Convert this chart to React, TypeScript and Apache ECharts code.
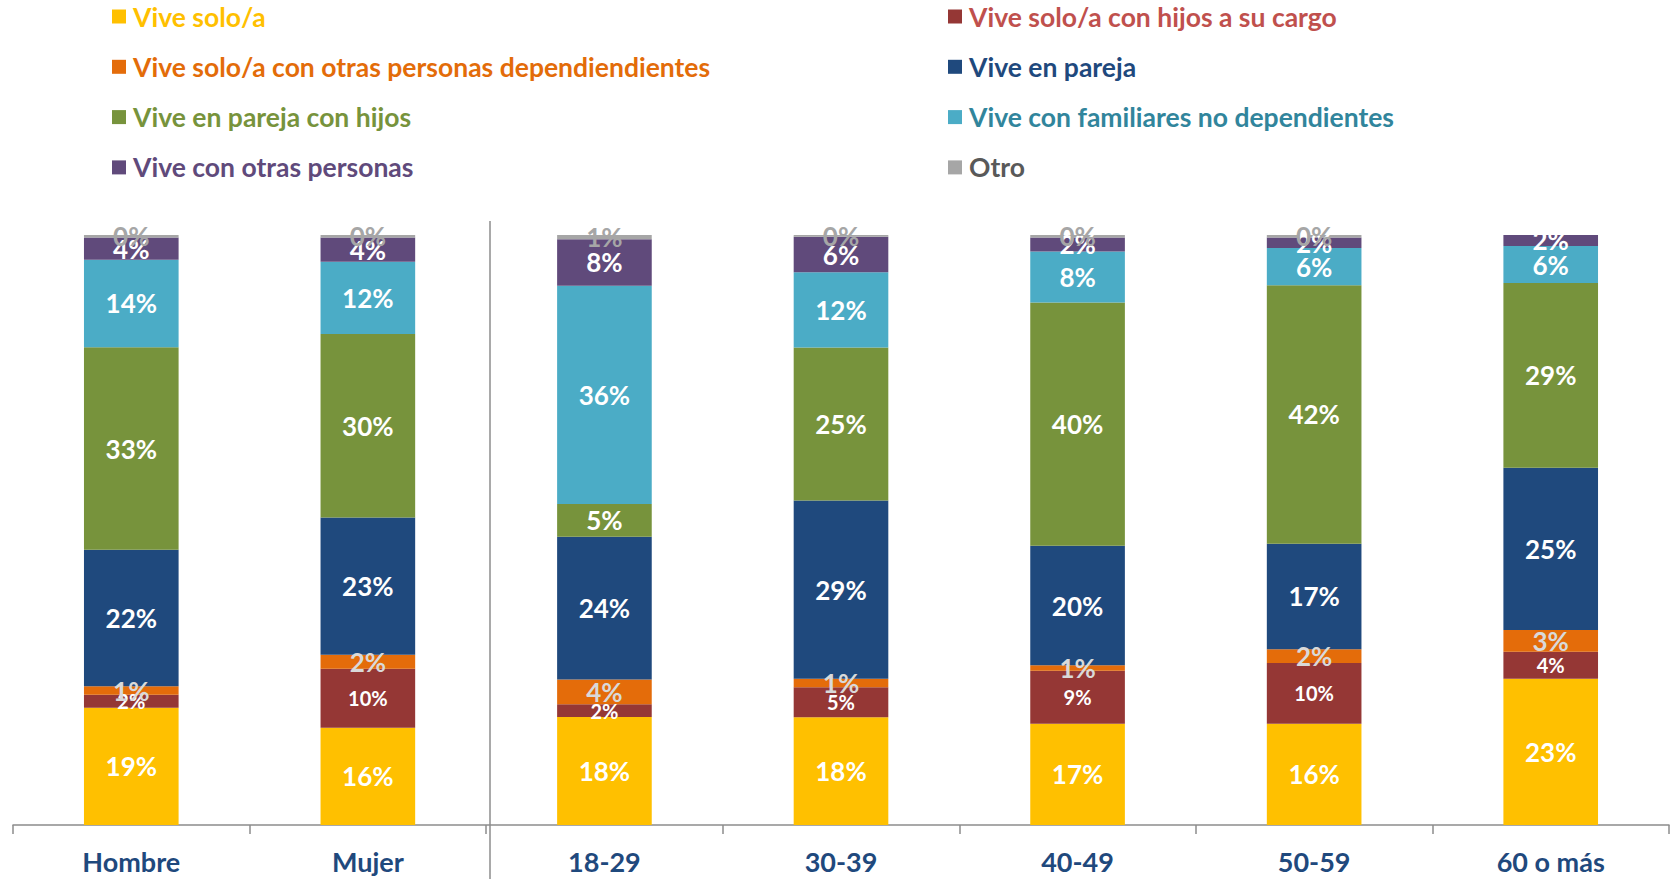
import React, { useEffect, useRef } from "react";
import * as echarts from "echarts";

const categories = ["Hombre", "Mujer", "18-29", "30-39", "40-49", "50-59", "60 o más"];

const seriesNames = [
  "Vive solo/a",
  "Vive solo/a con hijos a su cargo",
  "Vive solo/a con otras personas dependiendientes",
  "Vive en pareja",
  "Vive en pareja con hijos",
  "Vive con familiares no dependientes",
  "Vive con otras personas",
  "Otro",
];

const viveSolo = [18.9, 16.0, 17.9, 17.6, 16.7, 16.3, 22.8];
const soloConHijos = [2.1, 9.7, 2.1, 4.9, 8.7, 9.8, 4.2];
const soloConDependientes = [1.4, 2.3, 4.1, 1.4, 0.9, 2.2, 3.4];
const enPareja = [22.0, 22.6, 23.7, 29.1, 19.7, 17.0, 25.3];
const parejaConHijos = [32.7, 30.2, 5.4, 25.0, 40.1, 41.6, 28.8];
const familiaresNoDep = [14.1, 11.9, 36.2, 12.3, 8.4, 6.0, 5.8];
const otrasPersonas = [3.6, 4.0, 7.7, 5.8, 2.3, 1.7, 1.7];
const otro = [0.4, 0.4, 0.7, 0.3, 0.4, 0.4, 0];

const barColors = ["#FFC000", "#953735", "#E46C0A", "#1F497D", "#77933C", "#4BACC6", "#604A7B", "#A6A6A6"];
const legendTextColors = ["#FFC000", "#C0504D", "#E36C09", "#1F497D", "#77933C", "#31859C", "#604A7B", "#595959"];
const labelColors = ["#FFFFFF", "#FFFFFF", "#D9D9D9", "#FFFFFF", "#FFFFFF", "#FFFFFF", "#FFFFFF", "#A6A6A6"];

const FONT = "Lato";

export default function App() {
  const ref = useRef<HTMLDivElement>(null);

  useEffect(() => {
    if (!ref.current) return;
    const chart = echarts.init(ref.current, undefined, { renderer: "svg" });
    const allSeries = [
      viveSolo,
      soloConHijos,
      soloConDependientes,
      enPareja,
      parejaConHijos,
      familiaresNoDep,
      otrasPersonas,
      otro,
    ];
    const totals = categories.map((_, i) => allSeries.reduce((s, arr) => s + arr[i], 0));

    const series = allSeries.map((arr, si) => ({
      name: seriesNames[si],
      type: "bar",
      stack: "total",
      barWidth: "40%",
      itemStyle: { color: barColors[si] },
      label: {
        show: true,
        position: "inside",
        color: labelColors[si],
        fontFamily: FONT,
        fontWeight: "bold",
        fontSize: si === 1 ? 20 : 26,
        formatter: (p: any) => (p.data && p.data.raw > 0 ? Math.round(p.data.raw) + "%" : ""),
      },
      data: arr.map((v, i) => ({ value: (v / totals[i]) * 100, raw: v })),
    }));

    const legendItem = (i: number) => ({
      name: seriesNames[i],
      textStyle: { color: legendTextColors[i] },
    });
    const legendBase = {
      orient: "vertical",
      top: 3,
      padding: 0,
      itemWidth: 14,
      itemHeight: 14,
      itemGap: 23.3,
      icon: "rect",
      selectedMode: false,
      textStyle: {
        fontFamily: FONT,
        fontWeight: "bold",
        fontSize: 26.5,
        lineHeight: 26,
        padding: [0, 0, 0, 2],
      },
    };

    chart.setOption({
      animation: false,
      legend: [
        { ...legendBase, left: 112, data: [0, 2, 4, 6].map(legendItem) },
        { ...legendBase, left: 948, data: [1, 3, 5, 7].map(legendItem) },
      ],
      grid: { left: 13, right: 5, top: 235, bottom: 54, containLabel: false },
      xAxis: {
        type: "category",
        data: categories,
        axisLine: { lineStyle: { color: "#8C8C8C", width: 1.5 } },
        axisTick: { show: true, length: 9, lineStyle: { color: "#8C8C8C", width: 1.5 } },
        axisLabel: {
          color: "#1F497D",
          fontFamily: FONT,
          fontWeight: "bold",
          fontSize: 27,
          margin: 23,
        },
      },
      yAxis: { type: "value", min: 0, max: 100, show: false, splitLine: { show: false } },
      graphic: [
        {
          type: "line",
          shape: { x1: 490, y1: 221, x2: 490, y2: 879 },
          style: { stroke: "#8C8C8C", lineWidth: 1.5 },
        },
      ],
      series,
    });
    return () => chart.dispose();
  }, []);

  return (
    <div
      ref={ref}
      style={{ position: "fixed", left: 0, top: 0, width: 1674, height: 879, background: "#fff" }}
    />
  );
}
